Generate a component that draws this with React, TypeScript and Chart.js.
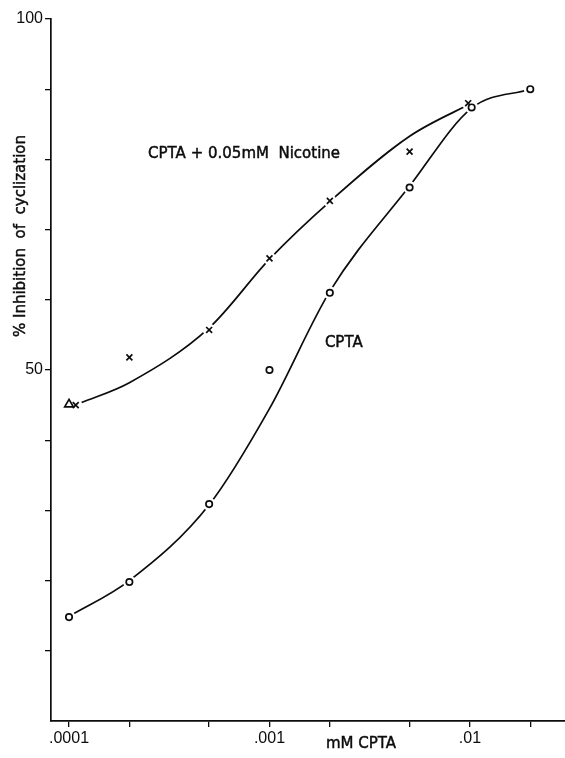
import { useEffect, useRef } from "react";
import { Chart, registerables } from "chart.js";

Chart.register(...registerables);

// Concentration axis (mM CPTA), logarithmic
const xTickValues = [0.0001, 0.0002, 0.0005, 0.001, 0.002, 0.005, 0.01, 0.02];
const xTickLabels = [".0001", "", "", ".001", "", "", ".01", ""];
const xMin = 0.0000813;
const xMax = 0.0298;

// % inhibition axis
const yTickValues = [10, 20, 30, 40, 50, 60, 70, 80, 90, 100];
const yLabelledTicks = [50, 100];

// CPTA alone (open circles)
const cptaConc = [0.0001, 0.0002, 0.0005, 0.001, 0.002, 0.005, 0.0102, 0.02];
const cptaInhibition = [14.8, 19.8, 30.9, 50, 61, 76, 87.4, 90];

// CPTA + 0.05 mM nicotine (crosses)
const nicConc = [0.000108, 0.0002, 0.0005, 0.001, 0.002, 0.005, 0.0098];
const nicInhibition = [45, 51.8, 55.7, 65.9, 74.1, 81.1, 88];

// 0.05 mM nicotine alone (triangle)
const nicAloneConc = [0.0001];
const nicAloneInhibition = [45.1];

// Hand-fitted curves through each series
const cptaCurveConc = [0.0001, 0.0002, 0.0005, 0.001, 0.002, 0.005, 0.0102, 0.02];
const cptaCurveInhibition = [14.9, 20, 30.8, 44.5, 61.2, 76.2, 87.3, 90];
const nicCurveConc = [0.000114, 0.0002, 0.0005, 0.001, 0.002, 0.005, 0.0105];
const nicCurveInhibition = [45.3, 48.2, 56, 65.8, 74, 83.3, 88.2];

// In-plot annotations, anchored in data coordinates
const nicLabelAt = { x: 0.000248, y: 80.2, text: "CPTA + 0.05mM  Nicotine" };
const cptaLabelAt = { x: 0.00189, y: 53.3, text: "CPTA" };
const xTitle = "mM CPTA";
const yTitle = "% Inhibition  of  cyclization";

const INK = "#0c0c0c";

const toPoints = (xs: number[], ys: number[]) => xs.map((x, i) => ({ x, y: ys[i] }));

// Text drawn with a hairline outline for a slightly heavier, printed look
const inkText = (ctx: CanvasRenderingContext2D, text: string, x: number, y: number) => {
  ctx.fillText(text, x, y);
  ctx.strokeText(text, x, y);
};

const textPlugin = {
  id: "figureText",
  afterDraw(chart: any) {
    const { ctx, chartArea, scales } = chart;
    ctx.save();
    ctx.fillStyle = INK;
    ctx.strokeStyle = INK;
    ctx.lineWidth = 0.45;
    ctx.textBaseline = "alphabetic";
    ctx.textAlign = "left";
    ctx.font = "15px 'DejaVu Sans'";
    for (const l of [nicLabelAt, cptaLabelAt]) {
      inkText(ctx, l.text, scales.x.getPixelForValue(l.x), scales.y.getPixelForValue(l.y));
    }
    ctx.textAlign = "center";
    inkText(ctx, xTitle, 361, chartArea.bottom + 27);
    ctx.translate(25, 236);
    ctx.rotate(-Math.PI / 2);
    inkText(ctx, yTitle, 0, 0);
    ctx.restore();
  },
};

export default function App() {
  const ref = useRef<HTMLCanvasElement | null>(null);

  useEffect(() => {
    if (!ref.current) return;
    const halo = (xs: number[], ys: number[], r: number) => ({
      type: "line" as const,
      data: toPoints(xs, ys),
      showLine: false,
      pointRadius: r,
      pointBackgroundColor: "#ffffff",
      pointBorderWidth: 0,
      pointBorderColor: "#ffffff",
      order: 2,
    });
    const chart = new Chart(ref.current, {
      type: "line",
      data: {
        datasets: [
          {
            data: toPoints(cptaCurveConc, cptaCurveInhibition),
            borderColor: INK,
            borderWidth: 1.7,
            pointRadius: 0,
            cubicInterpolationMode: "monotone",
            fill: false,
            order: 3,
          },
          {
            data: toPoints(nicCurveConc, nicCurveInhibition),
            borderColor: INK,
            borderWidth: 1.7,
            pointRadius: 0,
            cubicInterpolationMode: "monotone",
            fill: false,
            order: 3,
          },
          halo(cptaConc, cptaInhibition, 6.5),
          halo(nicConc, nicInhibition, 6.5),
          halo(nicAloneConc, nicAloneInhibition, 6.5),
          {
            data: toPoints(cptaConc, cptaInhibition),
            showLine: false,
            pointStyle: "circle",
            pointRadius: 3.2,
            pointBorderWidth: 1.7,
            pointBorderColor: INK,
            pointBackgroundColor: "#ffffff",
            order: 1,
          },
          {
            data: toPoints(nicConc, nicInhibition),
            showLine: false,
            pointStyle: "crossRot",
            pointRadius: 4.2,
            pointBorderWidth: 1.7,
            pointBorderColor: INK,
            order: 1,
          },
          {
            data: toPoints(nicAloneConc, nicAloneInhibition),
            showLine: false,
            pointStyle: "triangle",
            pointRadius: 5,
            pointBorderWidth: 1.7,
            pointBorderColor: INK,
            pointBackgroundColor: "#ffffff",
            order: 1,
          },
        ],
      },
      options: {
        animation: false,
        responsive: false,
        devicePixelRatio: 1,
        events: [],
        layout: { autoPadding: false, padding: { top: 19, right: 0, bottom: 0, left: 0 } },
        plugins: {
          legend: { display: false },
          tooltip: { enabled: false },
          title: { display: false },
        },
        scales: {
          x: {
            type: "logarithmic",
            min: xMin,
            max: xMax,
            afterBuildTicks: (scale: any) => {
              scale.ticks = xTickValues.map((value) => ({ value }));
            },
            afterFit: (scale: any) => {
              scale.height = 37;
              scale.paddingLeft = 0;
              scale.paddingRight = 0;
            },
            ticks: {
              autoSkip: false,
              maxRotation: 0,
              padding: 2,
              color: INK,
              font: { family: "'Liberation Sans'", size: 16 },
              callback: (_v: any, i: number) => xTickLabels[i],
            },
            grid: {
              display: true,
              drawOnChartArea: false,
              drawTicks: true,
              tickLength: 6,
              color: INK,
              lineWidth: 1.3,
            },
            border: { display: true, color: INK, width: 1.7 },
          },
          y: {
            type: "linear",
            min: 0,
            max: 100,
            afterBuildTicks: (scale: any) => {
              scale.ticks = yTickValues.map((value) => ({ value }));
            },
            afterFit: (scale: any) => {
              scale.width = 51;
            },
            ticks: {
              autoSkip: false,
              padding: 2,
              color: INK,
              font: { family: "'Liberation Sans'", size: 16 },
              callback: (v: any) => (yLabelledTicks.includes(Number(v)) ? String(v) : ""),
            },
            grid: {
              display: true,
              drawOnChartArea: false,
              drawTicks: true,
              tickLength: 6,
              color: INK,
              lineWidth: 1.3,
            },
            border: { display: true, color: INK, width: 1.7 },
          },
        },
      },
      plugins: [textPlugin],
    });
    return () => chart.destroy();
  }, []);

  return (
    <div style={{ position: "absolute", left: 0, top: 0, width: 565, height: 758, background: "#fff" }}>
      <canvas ref={ref} width={565} height={758} />
    </div>
  );
}
